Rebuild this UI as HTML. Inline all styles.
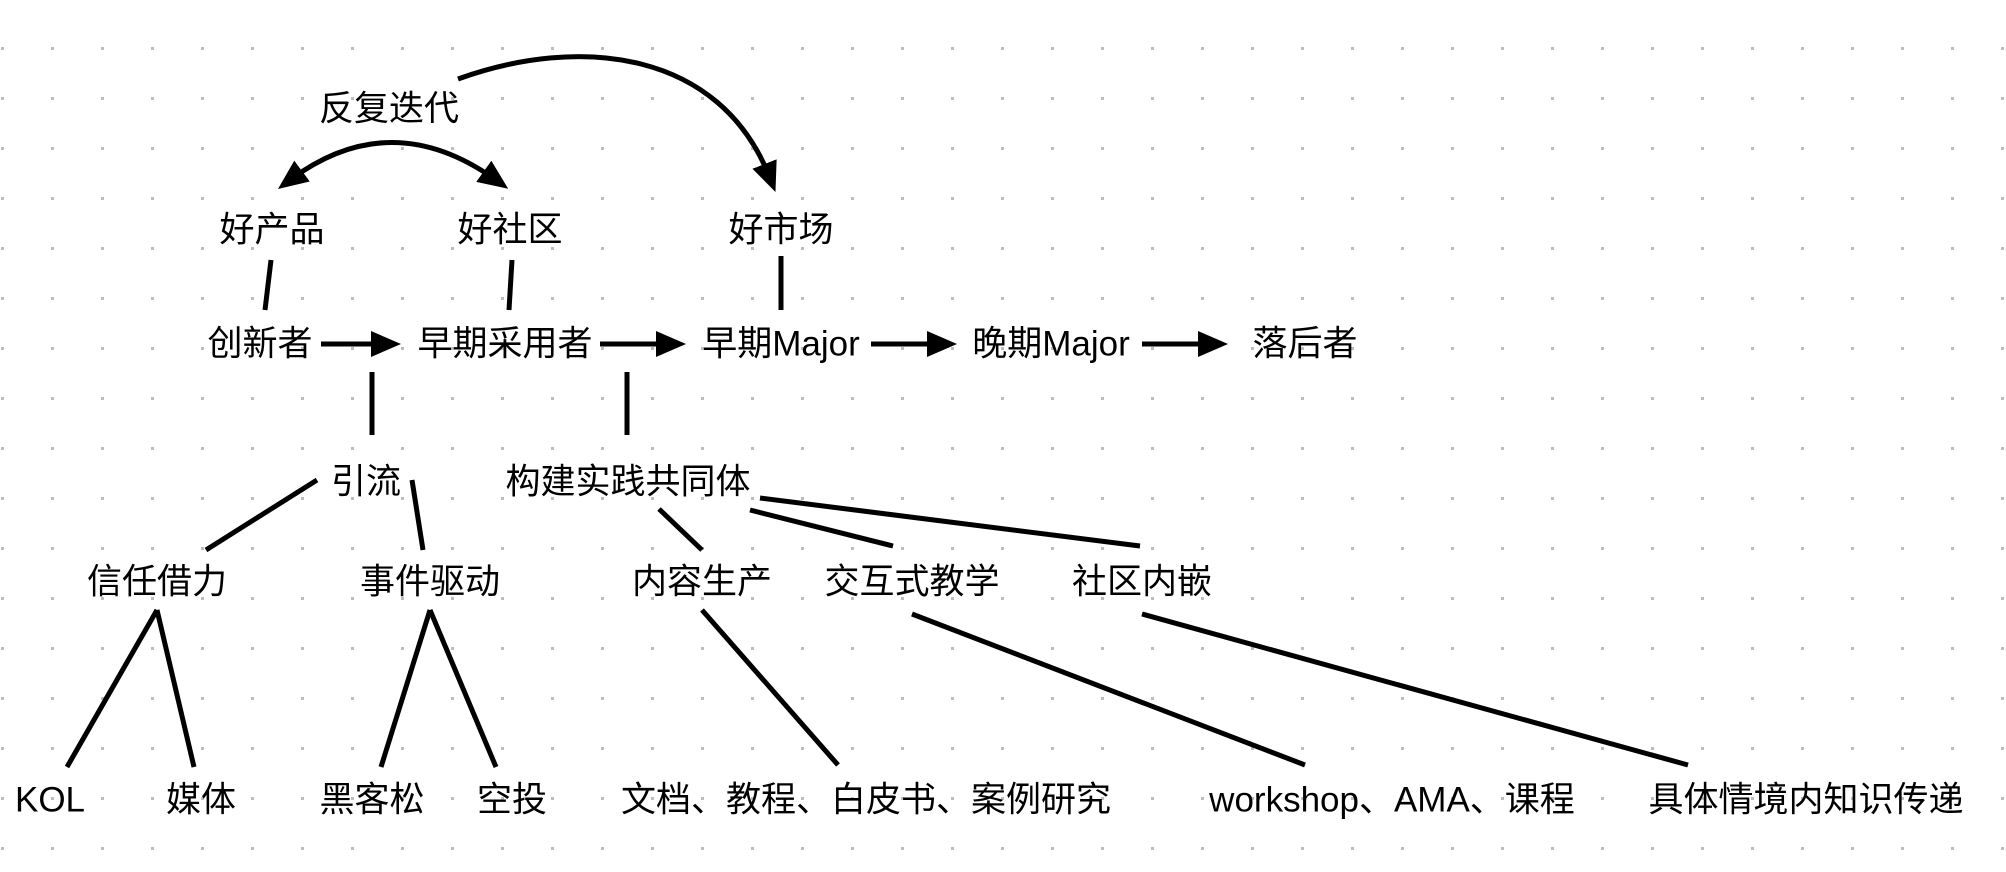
<!DOCTYPE html>
<html><head><meta charset="utf-8"><style>
html,body{margin:0;padding:0;background:#fff;}
svg{display:block;}
text{font-family:"Liberation Sans","Noto Sans CJK SC",sans-serif;font-size:35px;fill:#000;text-anchor:middle;dominant-baseline:central;}
</style></head><body>
<svg width="2006" height="872" viewBox="0 0 2006 872" xmlns="http://www.w3.org/2000/svg">
<defs>
<pattern id="g" x="0" y="23" width="50" height="50" patternUnits="userSpaceOnUse">
<rect x="1" y="24" width="3" height="3" fill="#bdbdbd"/>
</pattern>
<marker id="a" markerWidth="6" markerHeight="6" refX="3" refY="3" orient="auto" markerUnits="strokeWidth">
<path d="M0,0.4 L6,3 L0,5.6 Z" fill="#000"/>
</marker>
<marker id="as" markerWidth="6" markerHeight="6" refX="3" refY="3" orient="auto-start-reverse" markerUnits="strokeWidth">
<path d="M0,0.4 L6,3 L0,5.6 Z" fill="#000"/>
</marker>
</defs>
<rect width="2006" height="872" fill="url(#g)"/>
<g stroke="#000" stroke-width="5" fill="none" stroke-linecap="butt">
<path d="M458,79 C580,35 720,50 770,178" marker-end="url(#a)"/>
<path d="M290,180 Q391,105 496,180" marker-start="url(#as)" marker-end="url(#a)"/>
<line x1="271" y1="260" x2="265" y2="310"/>
<line x1="512" y1="260" x2="509" y2="310"/>
<line x1="781" y1="256" x2="781" y2="310"/>
<line x1="321" y1="344" x2="386" y2="344" marker-end="url(#a)"/>
<line x1="600" y1="344" x2="671" y2="344" marker-end="url(#a)"/>
<line x1="871" y1="344" x2="942" y2="344" marker-end="url(#a)"/>
<line x1="1142" y1="344" x2="1213" y2="344" marker-end="url(#a)"/>
<line x1="372" y1="372" x2="372" y2="435"/>
<line x1="627" y1="372" x2="627" y2="435"/>
<line x1="317" y1="480" x2="206" y2="550"/>
<line x1="412" y1="480" x2="423" y2="550"/>
<line x1="659" y1="509" x2="702" y2="550"/>
<line x1="750" y1="510" x2="893" y2="546"/>
<line x1="760" y1="498" x2="1140" y2="546"/>
<line x1="157" y1="610" x2="67" y2="767"/>
<line x1="157" y1="610" x2="194" y2="767"/>
<line x1="430" y1="610" x2="381" y2="767"/>
<line x1="430" y1="610" x2="496" y2="767"/>
<line x1="702" y1="610" x2="838" y2="765"/>
<line x1="912" y1="614" x2="1305" y2="765"/>
<line x1="1142" y1="614" x2="1688" y2="765"/>
</g>
<text x="389" y="109">反复迭代</text>
<text x="272" y="230">好产品</text>
<text x="510" y="230">好社区</text>
<text x="781" y="230">好市场</text>
<text x="260" y="344">创新者</text>
<text x="505" y="344">早期采用者</text>
<text x="781" y="344">早期Major</text>
<text x="1051" y="344">晚期Major</text>
<text x="1305" y="344">落后者</text>
<text x="366" y="482">引流</text>
<text x="628" y="482">构建实践共同体</text>
<text x="157" y="582">信任借力</text>
<text x="430" y="582">事件驱动</text>
<text x="702" y="582">内容生产</text>
<text x="912" y="582">交互式教学</text>
<text x="1142" y="582">社区内嵌</text>
<text x="50" y="800">KOL</text>
<text x="201" y="800">媒体</text>
<text x="372" y="800">黑客松</text>
<text x="512" y="800">空投</text>
<text x="866" y="800">文档、教程、白皮书、案例研究</text>
<text x="1392" y="800">workshop、AMA、课程</text>
<text x="1806" y="800">具体情境内知识传递</text>
</svg>
</body></html>
